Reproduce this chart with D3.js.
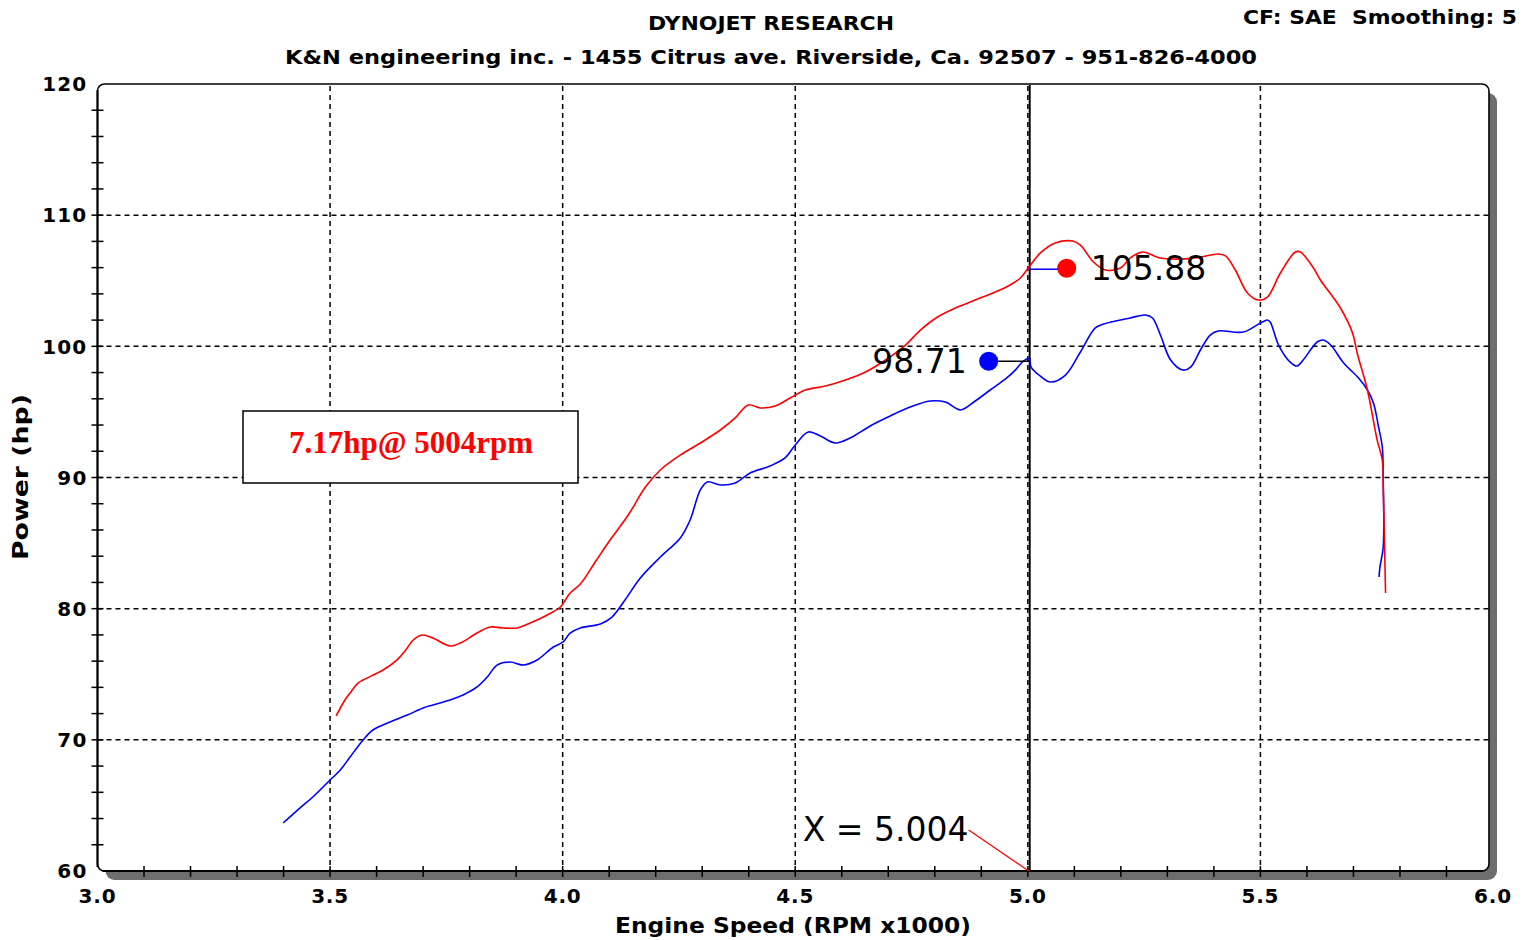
<!DOCTYPE html>
<html><head><meta charset="utf-8">
<script src="https://cdn.jsdelivr.net/npm/d3@7"></script>
<style>body{margin:0;background:#fff;}svg{display:block;}</style>
</head><body>
<script>
// ---------- data ----------
const rpmTicks = [3.0, 3.5, 4.0, 4.5, 5.0, 5.5, 6.0];
const hpTicks = [60, 70, 80, 90, 100, 110, 120];

const modRpm = [3.513,3.532,3.543,3.560,3.571,3.597,3.614,3.644,3.661,3.679,3.698,3.721,3.758,3.780,3.816,3.844,3.872,3.902,3.930,3.967,3.995,4.016,4.038,4.070,4.102,4.141,4.178,4.210,4.253,4.296,4.339,4.371,4.399,4.425,4.457,4.489,4.522,4.565,4.608,4.651,4.694,4.737,4.769,4.806,4.844,4.887,4.930,4.962,4.984,5.001,5.027,5.059,5.096,5.113,5.141,5.167,5.199,5.220,5.246,5.285,5.328,5.371,5.409,5.425,5.446,5.472,5.496,5.515,5.543,5.575,5.586,5.614,5.629,5.672,5.698,5.708,5.730,5.751,5.762,5.764,5.769];
const modHp = [71.82,73.04,73.57,74.33,74.56,75.02,75.32,76.09,76.77,77.61,77.99,77.76,77.15,77.38,78.14,78.60,78.53,78.53,78.91,79.52,80.13,81.19,81.88,83.56,85.23,87.14,89.27,90.57,91.71,92.63,93.62,94.54,95.53,95.30,95.45,96.06,96.67,96.97,97.43,98.04,98.96,100.10,101.24,102.24,102.92,103.53,104.14,104.68,105.21,105.97,107.12,107.88,108.03,107.72,106.43,105.82,105.97,106.73,107.19,106.73,106.65,106.80,107.04,106.89,105.82,104.07,103.53,103.76,105.59,107.19,107.19,105.97,105.06,102.92,101.02,99.49,96.67,92.86,91.33,89.27,81.19];

const baseRpm = [3.399,3.435,3.463,3.500,3.522,3.543,3.571,3.592,3.629,3.666,3.700,3.721,3.758,3.786,3.816,3.838,3.859,3.887,3.915,3.945,3.980,4.001,4.016,4.038,4.081,4.106,4.134,4.167,4.210,4.253,4.274,4.296,4.311,4.339,4.371,4.403,4.446,4.478,4.500,4.528,4.554,4.586,4.618,4.661,4.704,4.747,4.790,4.823,4.855,4.887,4.919,4.952,4.973,4.988,5.003,5.007,5.027,5.049,5.081,5.113,5.145,5.163,5.220,5.253,5.268,5.285,5.307,5.333,5.350,5.371,5.392,5.409,5.463,5.500,5.515,5.521,5.539,5.564,5.579,5.592,5.622,5.635,5.651,5.679,5.711,5.730,5.743,5.754,5.762,5.764,5.764,5.757,5.755];
const baseHp = [63.66,64.80,65.64,66.94,67.70,68.69,69.99,70.75,71.36,71.89,72.43,72.66,73.04,73.42,74.03,74.79,75.70,75.93,75.70,76.09,77.08,77.46,78.14,78.53,78.83,79.36,80.66,82.34,83.94,85.39,86.76,89.05,89.66,89.43,89.58,90.34,90.88,91.49,92.48,93.47,93.16,92.63,93.01,93.93,94.69,95.37,95.83,95.75,95.15,95.83,96.67,97.51,98.19,98.80,99.11,98.42,97.73,97.28,97.81,99.57,101.40,101.70,102.16,102.39,102.16,100.86,98.96,98.19,98.42,99.72,100.86,101.17,101.09,101.78,102.01,101.86,100.10,98.80,98.50,98.96,100.33,100.48,100.10,98.73,97.58,96.67,95.68,93.85,92.32,89.81,84.70,83.18,82.41];

const cursorRpm = 5.004;
const modAtCursor = 105.88;
const baseAtCursor = 98.71;
const gainText = "7.17hp@ 5004rpm";
const titleText = "DYNOJET RESEARCH";
const subtitleText = "K&N engineering inc. - 1455 Citrus ave. Riverside, Ca. 92507 - 951-826-4000";
const cornerText = "CF: SAE\u00a0\u00a0Smoothing: 5";
const xTitle = "Engine Speed (RPM x1000)";
const yTitle = "Power (hp)";

// ---------- drawing ----------
const W = 1533, H = 940;
const svg = d3.select("body").append("svg").attr("width", W).attr("height", H);
const x = d3.scaleLinear().domain([3, 6]).range([97.5, 1493]);
const y = d3.scaleLinear().domain([60, 120]).range([871, 84]);
const x0 = x(3), x1 = x(6) - 4, y0 = y(120), y1 = y(60);
const bold = "'DejaVu Sans', Verdana, sans-serif";

// shadow + frame
svg.append("rect").attr("x", x0 + 8).attr("y", y0 + 9).attr("width", x1 - x0).attr("height", y1 - y0)
  .attr("rx", 9).attr("fill", "#6e6e6e");
svg.append("rect").attr("x", x0).attr("y", y0).attr("width", x1 - x0).attr("height", y1 - y0)
  .attr("rx", 7).attr("fill", "#fff").attr("stroke", "#000").attr("stroke-width", 1.6);

// grid
const g = svg.append("g");
g.selectAll("line.hg").data(hpTicks.filter(d => d > 60 && d < 120)).join("line")
  .attr("x1", x0).attr("x2", x1).attr("y1", d => y(d)).attr("y2", d => y(d))
  .attr("stroke", "#000").attr("stroke-width", 1.5).attr("stroke-dasharray", "5,4");
g.selectAll("line.vg").data(rpmTicks.filter(d => d > 3 && d < 6)).join("line")
  .attr("x1", d => x(d)).attr("x2", d => x(d)).attr("y1", y0 + 2).attr("y2", y1)
  .attr("stroke", "#000").attr("stroke-width", 1.5).attr("stroke-dasharray", "5,4");

// axis lines
svg.append("line").attr("x1", x0).attr("x2", x0).attr("y1", y0 + 6).attr("y2", y1 - 4)
  .attr("stroke", "#000").attr("stroke-width", 2);
svg.append("line").attr("x1", x0 + 5).attr("x2", x1 - 6).attr("y1", y1).attr("y2", y1)
  .attr("stroke", "#000").attr("stroke-width", 2);

// minor ticks
const yMinor = d3.range(62, 120, 2);
svg.selectAll("line.yt").data(yMinor).join("line")
  .attr("x1", x0 - 6).attr("x2", x0 + 6).attr("y1", d => y(d)).attr("y2", d => y(d))
  .attr("stroke", "#000").attr("stroke-width", 1.5);
const xMinor = d3.range(31, 60, 1).map(d => d / 10);
svg.selectAll("line.xt").data(xMinor).join("line")
  .attr("x1", d => x(d)).attr("x2", d => x(d)).attr("y1", y1 - 5).attr("y2", y1 + 6)
  .attr("stroke", "#000").attr("stroke-width", 1.5);

// tick labels
svg.selectAll("text.yl").data(hpTicks).join("text")
  .attr("x", x0 - 10).attr("y", d => y(d)).attr("dy", "0.36em")
  .attr("text-anchor", "end").attr("font-family", bold).attr("font-weight", "bold")
  .attr("font-size", 20).attr("letter-spacing", 1.2).text(d => d);
svg.selectAll("text.xl").data(rpmTicks).join("text")
  .attr("x", d => x(d)).attr("y", 903)
  .attr("text-anchor", "middle").attr("font-family", bold).attr("font-weight", "bold")
  .attr("font-size", 20).attr("letter-spacing", 0.8).text(d => d.toFixed(1));

// titles
function fitText(txt, cx, cy, len, size) {
  return svg.append("text").attr("x", cx).attr("y", cy).attr("text-anchor", "middle")
    .attr("font-family", bold).attr("font-weight", "bold").attr("font-size", size)
    .attr("textLength", len).attr("lengthAdjust", "spacingAndGlyphs").text(txt);
}
fitText(titleText, 771, 30, 246, 20);
fitText(subtitleText, 771, 64, 972, 20);
fitText(cornerText, 1380, 24, 274, 20);
fitText(xTitle, 793, 933, 356, 21);
svg.append("text").attr("transform", "translate(28,477) rotate(-90)").attr("text-anchor", "middle")
  .attr("font-family", bold).attr("font-weight", "bold").attr("font-size", 21)
  .attr("textLength", 166).attr("lengthAdjust", "spacingAndGlyphs").text(yTitle);

// cursor line
svg.append("line").attr("x1", x(cursorRpm)).attr("x2", x(cursorRpm)).attr("y1", y0 + 1).attr("y2", y1)
  .attr("stroke", "#000").attr("stroke-width", 2);

// curves
const line = d3.line().x(d => x(d[0])).y(d => y(d[1])).curve(d3.curveCatmullRom.alpha(0.5));
svg.append("path").datum(baseRpm.map((r, i) => [r, baseHp[i]])).attr("d", line)
  .attr("fill", "none").attr("stroke", "#0000ff").attr("stroke-width", 1.6);
svg.append("path").datum(modRpm.map((r, i) => [r, modHp[i]])).attr("d", line)
  .attr("fill", "none").attr("stroke", "#ff0000").attr("stroke-width", 1.6);

// cursor readouts
const cx = x(cursorRpm);
svg.append("line").attr("x1", cx).attr("x2", cx + 30).attr("y1", y(modAtCursor)).attr("y2", y(modAtCursor))
  .attr("stroke", "#0000ff").attr("stroke-width", 1.5);
svg.append("circle").attr("cx", cx + 37).attr("cy", y(modAtCursor) - 1).attr("r", 9.5).attr("fill", "#ff0000");
svg.append("text").attr("x", cx + 61).attr("y", y(modAtCursor) + 11)
  .attr("font-family", "'DejaVu Sans', sans-serif").attr("font-size", 33).attr("fill", "#000")
  .text(modAtCursor.toFixed(2));
svg.append("line").attr("x1", cx - 32).attr("x2", cx).attr("y1", y(baseAtCursor) - 2).attr("y2", y(baseAtCursor) - 2)
  .attr("stroke", "#000").attr("stroke-width", 1.5);
svg.append("circle").attr("cx", cx - 41).attr("cy", y(baseAtCursor) - 2).attr("r", 9.5).attr("fill", "#0000ff");
svg.append("text").attr("x", cx - 63).attr("y", y(baseAtCursor) + 10).attr("text-anchor", "end")
  .attr("font-family", "'DejaVu Sans', sans-serif").attr("font-size", 33).attr("fill", "#000")
  .text(baseAtCursor.toFixed(2));

// X readout
svg.append("text").attr("x", cx - 227).attr("y", 841)
  .attr("font-family", "'DejaVu Sans', sans-serif").attr("font-size", 33).attr("fill", "#000")
  .text("X = " + cursorRpm.toFixed(3));
svg.append("line").attr("x1", cx - 61).attr("y1", 830).attr("x2", cx - 1).attr("y2", y1)
  .attr("stroke", "#ff0000").attr("stroke-width", 1.3);

// gain box
svg.append("rect").attr("x", 243).attr("y", 411).attr("width", 335).attr("height", 72)
  .attr("fill", "#fff").attr("stroke", "#000").attr("stroke-width", 1.5);
svg.append("text").attr("x", 411).attr("y", 453).attr("text-anchor", "middle")
  .attr("font-family", "'Liberation Serif', 'Times New Roman', serif").attr("font-weight", "bold")
  .attr("font-size", 31).attr("fill", "#ff0000").text(gainText);
</script>
</body></html>
